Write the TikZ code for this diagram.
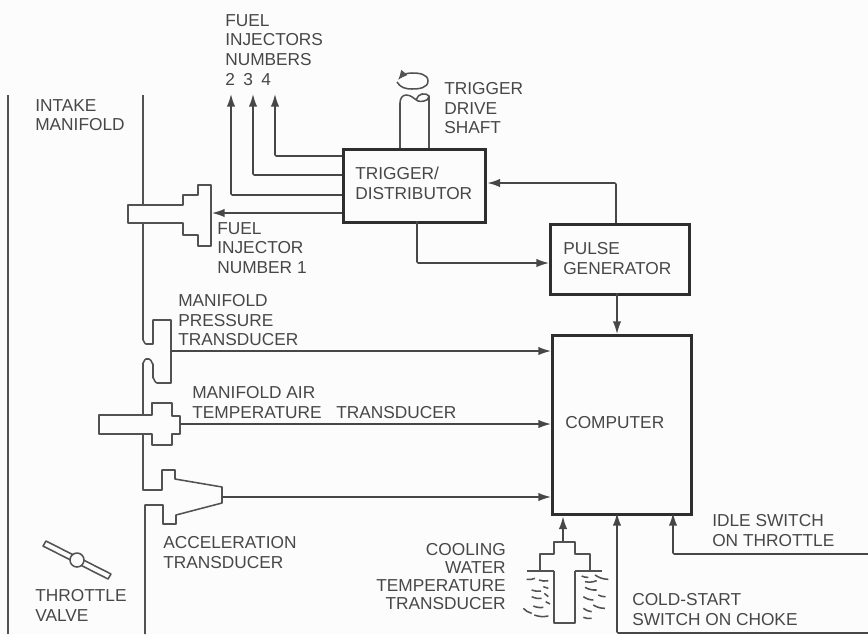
\documentclass[tikz,border=0pt]{standalone}
\usepackage{fontspec}
\setmainfont{Liberation Sans}
\usetikzlibrary{positioning, calc, arrows.meta}

\tikzset{
    sigline/.style={line width=1.1pt, draw=black!72, -{Latex[length=9pt,width=6pt]}, rounded corners=0.8pt},
    blockbox/.style={draw=black!82, line width=2.4pt, anchor=north west, inner sep=0pt},
    partline/.style={line width=1.1pt, draw=black!68, line join=round},
    lbl/.style={font=\fontsize{12.3}{14}\selectfont, text=black!72, inner sep=0pt, anchor=north west, align=left},
    lblr/.style={font=\fontsize{12.3}{12.9}\selectfont, text=black!72, inner sep=0pt, anchor=north east, align=right}
}

\begin{document}
\begin{tikzpicture}[x=0.025cm, y=-0.025cm]
    \useasboundingbox (0,0) rectangle (868,634);
    \fill[black!1] (0,0) rectangle (868,634);

    % Blocks
    \node[blockbox, minimum width=142*0.025cm, minimum height=73*0.025cm] (trigger) at (342,148) {};
    \node[blockbox, minimum width=139*0.025cm, minimum height=70*0.025cm] (pulse) at (549,223) {};
    \node[blockbox, minimum width=139*0.025cm, minimum height=179*0.025cm] (computer) at (551,334) {};
    \node[lbl] (triggertext) at (355,167) {TRIGGER/\\DISTRIBUTOR};
    \node[lbl] (pulsetext) at (563,242) {PULSE\\GENERATOR};
    \node[lbl] (computertext) at (565,416) {COMPUTER};

    % Manifold walls
    \draw[partline] (8,95) -- (8,634);
    \draw[partline] (143,95) -- (143,205);
    \draw[partline] (143,223) -- (143,340) to[out=90,in=180] (146,344) -- (153,344) -- (153,320) -- (171,320) -- (171,383)
        -- (157,383) to[out=180,in=90] (153,378) -- (153,364) to[out=-90,in=0] (149,359) -- (146,359) to[out=180,in=-90] (143,363) -- (143,415);
    \draw[partline] (143,434) -- (143,490) -- (162,490) -- (162,470) -- (175,470) -- (175,479) -- (222,487) -- (222,503)
        -- (176,515) -- (176,524) -- (163,524) -- (163,505) -- (145,505) -- (145,634);

    % Fuel injector 1
    \draw[partline] (143,205) -- (128,205) -- (128,223) -- (183,223) -- (183,235) -- (198,235) -- (198,246) -- (211,246)
        -- (211,185) -- (198,185) -- (198,195) -- (183,195) -- (183,205) -- cycle;
    \coordinate (inj1) at (212,213);

    % Air temperature transducer
    \draw[partline] (99,415) -- (152,415) -- (152,403) -- (172,403) -- (172,416) -- (180,416) -- (180,434) -- (172,434)
        -- (172,445) -- (152,445) -- (152,434) -- (99,434) -- cycle;
    \coordinate (air) at (180,424);
    \coordinate (press) at (171,351);
    \coordinate (accel) at (222,497);

    % Throttle valve
    \draw[partline] (43,546) -- (46,541) -- (111,574) -- (108,579) -- cycle;
    \draw[partline, fill=black!1] (77,560) circle (7);

    % Trigger drive shaft
    \draw[partline] (400,148) -- (400,103) to[out=90,in=180] (406,95) to[out=0,in=150] (418,101) to[out=-30,in=180] (424,101)
        to[out=0,in=-90] (429,96) -- (429,148);
    \draw[partline] (429,96) to[out=120,in=0] (422,94) to[out=180,in=60] (416,100);
    \draw[partline, {Latex[length=7pt,width=6pt]}-] (398,80) to[out=50,in=180] (412,73) to[out=0,in=90] (428,81) to[out=-90,in=0] (412,89)
        to[out=180,in=-60] (397,82);

    % Trigger and pulse wiring
    \coordinate (fuel2) at (231,94);
    \coordinate (fuel3) at (253,94);
    \coordinate (fuel4) at (275,94);
    \coordinate (pulseup) at (616,223);
    \coordinate (triggerdown) at (417,221);
    \draw[sigline] (trigger.west |- 0,195) -| (fuel2);
    \draw[sigline] (trigger.west |- 0,175) -| (fuel3);
    \draw[sigline] (trigger.west |- 0,156) -| (fuel4);
    \draw[sigline] (trigger.west |- inj1) -- (inj1);
    \draw[sigline] (pulseup) |- (trigger.east |- 0,183);
    \draw[sigline] (triggerdown) |- (pulse.west |- 0,263);
    \draw[sigline] (617,293) -- (617,334);

    % Inputs to computer
    \draw[sigline] (press) -- (computer.west |- press);
    \draw[sigline] (air) -- (computer.west |- air);
    \draw[sigline] (accel) -- (computer.west |- accel);
    \coordinate (cold) at (868,633);
    \coordinate (idle) at (868,554);
    \coordinate (cool) at (563,542);
    \draw[sigline] (cool) -- (cool |- computer.south);
    \draw[sigline] (cold) -| (617,513);
    \draw[sigline] (idle) -| (673,513);

    % Cooling water sensor
    \draw[partline] (527,571) -- (554,571);
    \draw[partline] (575,571) -- (602,571);
    \draw[partline] (540,571) -- (540,554) -- (554,554) -- (554,542) -- (575,542) -- (575,554) -- (590,554) -- (590,571);
    \draw[partline] (554,571) -- (554,623) -- (575,623) -- (575,571);
    \foreach \ax/\ay/\bx/\by in {35/148/60/145, 72/150/100/152, 85/170/100/175, 50/180/78/183, 50/200/80/205, 88/190/100/200, 55/228/85/232, 92/215/105/222, 25/235/50/250, 58/255/100/258,
        200/138/220/142, 240/135/280/148, 210/155/245/152, 210/172/245/180, 250/195/272/200, 205/200/235/210, 235/225/270/235, 205/235/230/245, 205/262/230/265} {
        \draw[partline] ({515+\ax/3},{530+\ay/3}) to[bend right=15] ({515+\bx/3},{530+\by/3});
    }

    % Labels
    \node[lbl] (fueltext) at (225,14) {FUEL\\INJECTORS\\NUMBERS\\2\hspace{6pt}3\hspace{6pt}4};
    \node[lbl] (shafttext) at (444,82) {TRIGGER\\DRIVE\\SHAFT};
    \node[lbl] (intaketext) at (35,99) {INTAKE\\MANIFOLD};
    \node[lbl] (inj1text) at (217,222) {FUEL\\INJECTOR\\NUMBER 1};
    \node[lbl] (presstext) at (178,294) {MANIFOLD\\PRESSURE\\TRANSDUCER};
    \node[lbl] (airtext) at (192,386) {MANIFOLD AIR\\TEMPERATURE\hspace{7pt} TRANSDUCER};
    \node[lbl] (acceltext) at (163,536) {ACCELERATION\\TRANSDUCER};
    \node[lbl] (throttletext) at (35,589) {THROTTLE\\VALVE};
    \node[lblr] (cooltext) at (506,543) {COOLING\\WATER\\TEMPERATURE\\TRANSDUCER};
    \node[lbl] (idletext) at (712,514) {IDLE SWITCH\\ON THROTTLE};
    \node[lbl] (coldtext) at (632,593) {COLD-START\\SWITCH ON CHOKE};
\end{tikzpicture}
\end{document}
